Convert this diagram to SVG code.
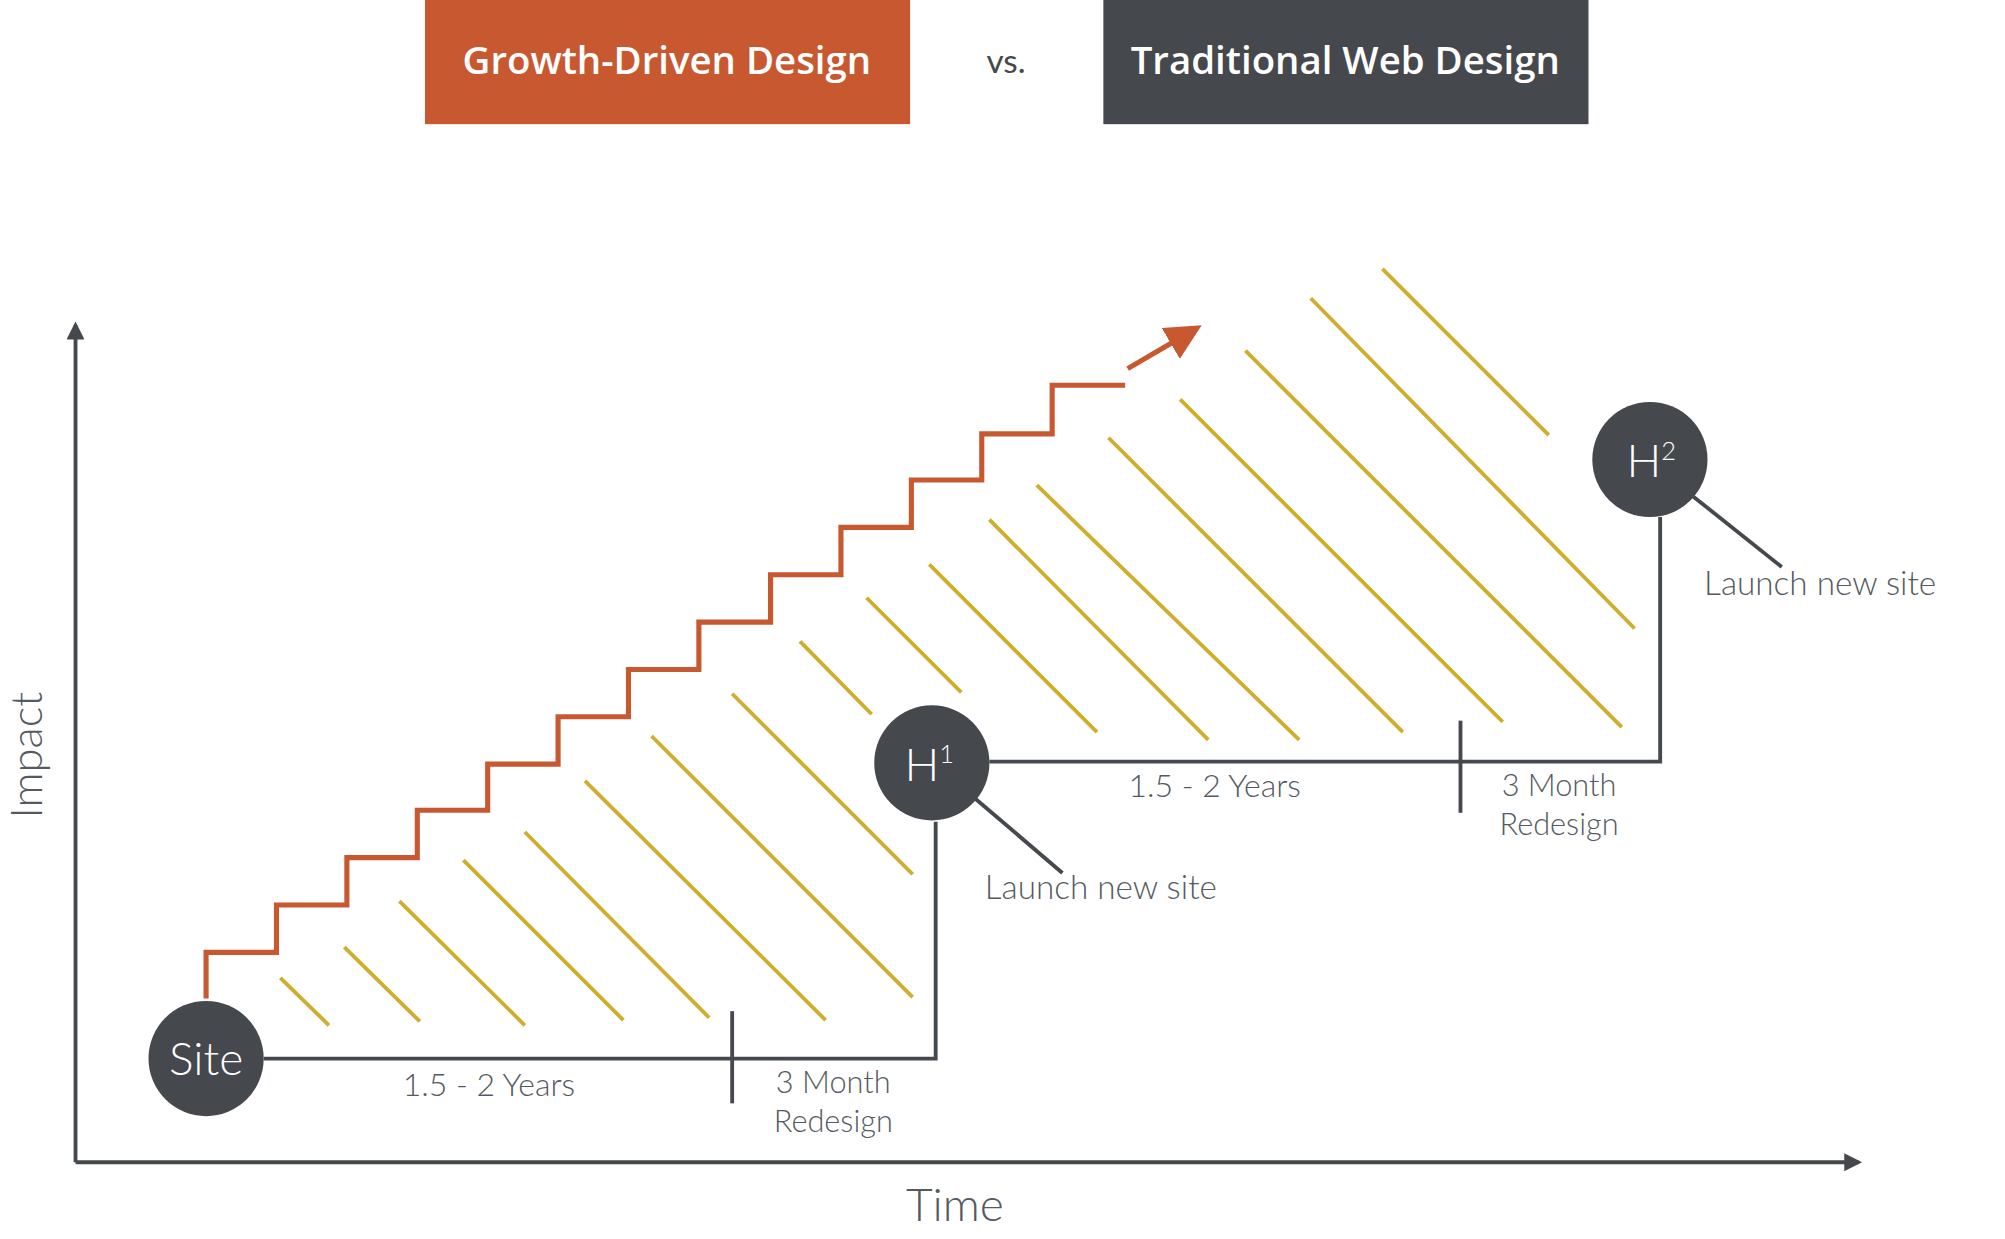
<svg xmlns="http://www.w3.org/2000/svg" width="2005" height="1239" viewBox="0 0 2005 1239">
<style>
.lt{font-family:Lato,"Open Sans",sans-serif;font-weight:300;fill:#555a5f;text-anchor:middle}
.hd{font-family:"Open Sans",Lato,sans-serif;font-weight:600;fill:#fff;font-size:30px;text-anchor:middle}
.hatch line{stroke:#cfae2e;stroke-width:3}
.ax{stroke:#45484d;stroke-width:3;fill:none}
.node circle{fill:#45484d}
.node text{font-family:Lato,"Open Sans",sans-serif;font-weight:300;fill:#fff;text-anchor:middle}
</style>
<defs>
<marker id="ah" viewBox="0 0 10 10" refX="8" refY="5" markerWidth="18" markerHeight="14" orient="auto" markerUnits="userSpaceOnUse"><path d="M0,0L10,5L0,10z" fill="#45484d"/></marker>
<marker id="ao" viewBox="0 0 10 10" refX="8" refY="5" markerWidth="7" markerHeight="7" orient="auto" markerUnits="strokeWidth"><path d="M0,0L10,5L0,10z" fill="#c75830"/></marker>
</defs>
<rect width="2005" height="1239" fill="#fff"/>
<g transform="scale(1.28)">
<g id="header">
<rect x="332" y="0" width="379" height="97" fill="#c75830"/>
<text class="hd" x="521" y="58">Growth-Driven Design</text>
<text x="786" y="57" font-family="Lato,sans-serif" font-size="26" fill="#45484d" text-anchor="middle">vs.</text>
<rect x="862" y="0" width="379" height="97" fill="#45484d"/>
<text class="hd" x="1051" y="58">Traditional Web Design</text>
</g>
<g id="hatch" class="hatch">
<line x1="219" y1="764" x2="257" y2="801"/>
<line x1="269" y1="740" x2="328" y2="798"/>
<line x1="312" y1="704" x2="410" y2="801"/>
<line x1="362" y1="672" x2="487" y2="797"/>
<line x1="410" y1="650" x2="554" y2="795"/>
<line x1="457" y1="610" x2="645" y2="797"/>
<line x1="509" y1="575" x2="713" y2="779"/>
<line x1="572" y1="542" x2="713" y2="683"/>
<line x1="625" y1="501" x2="681" y2="558"/>
<line x1="677" y1="467" x2="751" y2="541"/>
<line x1="726" y1="441" x2="857" y2="572"/>
<line x1="773" y1="406" x2="944" y2="578"/>
<line x1="810" y1="379" x2="1015" y2="578"/>
<line x1="866" y1="342" x2="1096" y2="572"/>
<line x1="922" y1="312" x2="1174" y2="564"/>
<line x1="973" y1="274" x2="1267" y2="568"/>
<line x1="1024" y1="233" x2="1277" y2="491"/>
<line x1="1080" y1="210" x2="1210" y2="340"/>
</g>
<g id="connectors">
<line class="ax" x1="59" y1="908" x2="59" y2="254" marker-end="url(#ah)"/>
<line class="ax" x1="59" y1="908" x2="1452" y2="908" marker-end="url(#ah)"/>
<polyline class="ax" points="206,827 731,827 731,642"/>
<line class="ax" x1="572" y1="790" x2="572" y2="862"/>
<polyline class="ax" points="773,595 1297,595 1297,404"/>
<line class="ax" x1="1141" y1="563" x2="1141" y2="635"/>
<line class="ax" x1="762" y1="624" x2="830" y2="682"/>
<line class="ax" x1="1323" y1="388" x2="1392" y2="443"/>
<polyline fill="none" stroke="#c75830" stroke-width="4" points="161,780 161,744 216,744 216,707 271,707 271,670 326,670 326,633 381,633 381,597 436,597 436,560 491,560 491,523 546,523 546,486 602,486 602,449 657,449 657,412 712,412 712,375 767,375 767,339 822,339 822,301 879,301"/>
<line x1="881" y1="288" x2="934" y2="257" stroke="#c75830" stroke-width="4" marker-end="url(#ao)"/>
</g>
<g id="site" class="node"><circle cx="161" cy="827" r="45"/><text x="161" y="840" font-size="36">Site</text></g>
<g id="h1" class="node"><circle cx="728" cy="596" r="45"/><text x="726" y="610" font-size="36">H<tspan dy="-14" font-size="20">1</tspan></text></g>
<g id="h2" class="node"><circle cx="1289" cy="359" r="45"/><text x="1290" y="373" font-size="36">H<tspan dy="-14" font-size="20">2</tspan></text></g>
<g id="labels">
<text class="lt" x="382" y="856" font-size="25">1.5 - 2 Years</text>
<text class="lt" x="651" y="854" font-size="24">3 Month</text>
<text class="lt" x="651" y="884" font-size="24">Redesign</text>
<text class="lt" x="949" y="623" font-size="25">1.5 - 2 Years</text>
<text class="lt" x="1218" y="622" font-size="24">3 Month</text>
<text class="lt" x="1218" y="652" font-size="24">Redesign</text>
<text class="lt" x="860" y="702" font-size="26">Launch new site</text>
<text class="lt" x="1422" y="465" font-size="26">Launch new site</text>
<text class="lt" x="746" y="954" font-size="36">Time</text>
<text class="lt" x="0" y="0" font-size="34" transform="translate(33,590) rotate(-90)">Impact</text>
</g>
</g>
</svg>
